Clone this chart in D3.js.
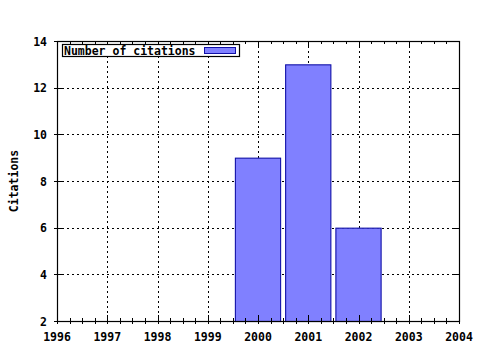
<html>
<head>
<meta charset="utf-8">
<style>
 body { margin: 0; background: #fff; }
 text { font-family: "DejaVu Sans Mono", "Liberation Mono", monospace; font-weight: bold; font-size: 11.5px; fill: #000; }
</style>
<script src="https://d3js.org/d3.v7.min.js"></script>
</head>
<body>
<svg id="chart" width="480" height="350"></svg>
<script>
 // data
 var years = [2000, 2001, 2002];
 var citations = [9, 13, 6];
 var xTicks = [1996, 1997, 1998, 1999, 2000, 2001, 2002, 2003, 2004];
 var yTicks = [2, 4, 6, 8, 10, 12, 14];
 var seriesName = "Number of citations";

 var plotL = 57, plotR = 459, plotT = 41, plotB = 321;
 var svg = d3.select('#chart');

 var x = d3.scaleLinear().domain([1996, 2004]).range([plotL, plotR]);
 var y = d3.scaleLinear().domain([2, 14]).range([plotB, plotT]);
 var barW = 0.9;

 // grid
 var grid = svg.append('g').attr('stroke', '#000').attr('stroke-width', 1)
     .attr('stroke-dasharray', '2,3').attr('shape-rendering', 'crispEdges');
 grid.selectAll('.gx').data(xTicks.slice(1, -1)).enter().append('line')
     .attr('x1', d => Math.round(x(d)) + 0.5).attr('x2', d => Math.round(x(d)) + 0.5)
     .attr('y1', plotT).attr('y2', plotB);
 grid.selectAll('.gy').data(yTicks.slice(1, -1)).enter().append('line')
     .attr('y1', d => Math.round(y(d)) + 0.5).attr('y2', d => Math.round(y(d)) + 0.5)
     .attr('x1', plotL).attr('x2', plotR);

 // bars
 svg.append('g').selectAll('rect').data(years).enter().append('rect')
     .attr('x', d => x(d - barW / 2))
     .attr('width', x(1996 + barW) - x(1996))
     .attr('y', (d, i) => y(citations[i]) + 0.5)
     .attr('height', (d, i) => y(2) - y(citations[i]))
     .attr('fill', '#8080ff').attr('stroke', '#1010a8').attr('stroke-width', 1.1);

 // frame
 svg.append('rect').attr('x', plotL + 0.5).attr('y', plotT + 0.5)
     .attr('width', plotR - plotL).attr('height', plotB - plotT)
     .attr('fill', 'none').attr('stroke', '#000').attr('stroke-width', 1.2);

 // ticks (inward, mirrored)
 var ticks = svg.append('g').attr('stroke', '#000').attr('stroke-width', 1).attr('shape-rendering', 'crispEdges');
 var minor = d3.range(1996, 2004.001, 0.25);
 ticks.selectAll('.mx').data(minor).enter().append('path')
     .attr('d', d => {
         var px = Math.round(x(d)) + 0.5;
         var len = Number.isInteger(d) ? 6 : 3;
         return 'M' + px + ',' + (plotB + 3) + 'V' + (plotB - len) +
                'M' + px + ',' + plotT + 'V' + (plotT + len);
     });
 ticks.selectAll('.my').data(yTicks).enter().append('path')
     .attr('d', d => {
         var py = Math.round(y(d)) + 0.5;
         return 'M' + (plotL - 3) + ',' + py + 'H' + (plotL + 6) +
                'M' + plotR + ',' + py + 'H' + (plotR - 6);
     });

 // tick labels
 svg.append('g').selectAll('text').data(xTicks).enter().append('text')
     .attr('x', d => x(d)).attr('y', plotB + 20)
     .attr('text-anchor', 'middle').text(d => d);
 svg.append('g').selectAll('text').data(yTicks).enter().append('text')
     .attr('x', 47).attr('y', d => y(d) + 4.5)
     .attr('text-anchor', 'end').text(d => d);

 // y label
 svg.append('text').attr('transform', 'translate(18,' + ((plotT + plotB) / 2) + ') rotate(-90)')
     .attr('text-anchor', 'middle').text('Citations');

 // legend
 var lg = svg.append('g');
 lg.append('rect').attr('x', 62.5).attr('y', 44.5).attr('width', 177).attr('height', 12)
     .attr('fill', '#fff').attr('stroke', '#000').attr('stroke-width', 1.2);
 lg.append('text').attr('x', 64).attr('y', 54.5).text(seriesName);
 lg.append('rect').attr('x', 204.5).attr('y', 47.5).attr('width', 31).attr('height', 6)
     .attr('fill', '#8080ff').attr('stroke', '#1010a8');
</script>
</body>
</html>
